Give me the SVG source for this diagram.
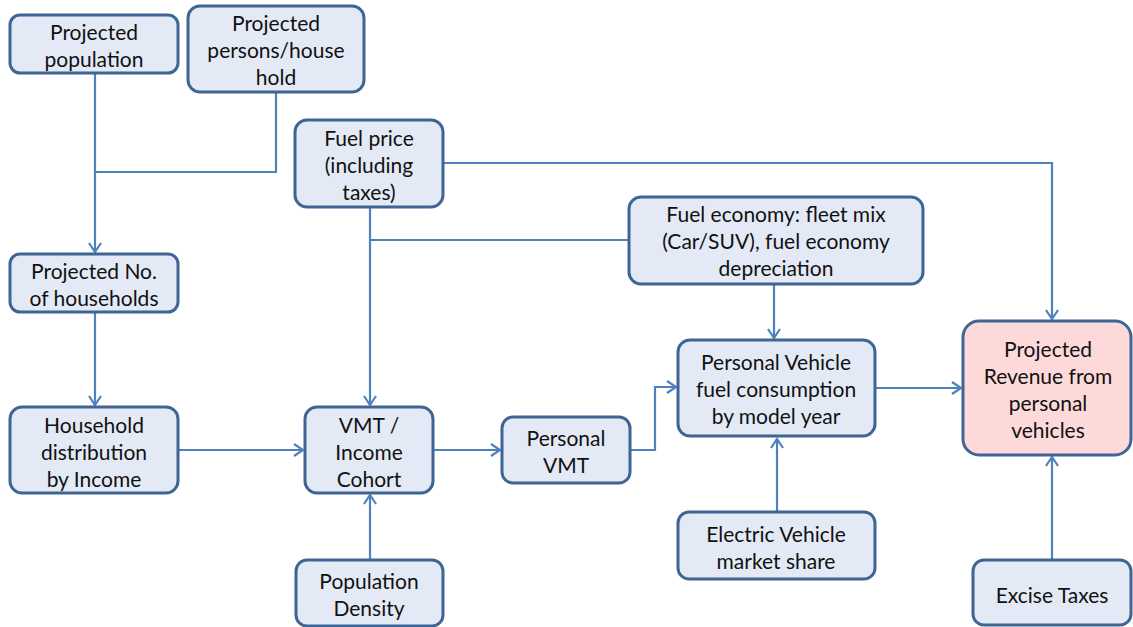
<svg xmlns="http://www.w3.org/2000/svg" width="1133" height="627" viewBox="0 0 1133 627">
<style>
.box{fill:#E3EAF5;stroke:#3F6594;stroke-width:3}
.rev{fill:#FDD9DA;stroke:#3F6594;stroke-width:3}
.t{font-family:Lato,"Open Sans","Liberation Sans",sans-serif;font-size:21px;fill:#111;text-anchor:middle;dominant-baseline:central}
.c{fill:none;stroke:#4F81BD;stroke-width:2.2;marker-end:url(#ah)}
.n{fill:none;stroke:#4F81BD;stroke-width:2.2}
</style>
<defs>
<marker id="ah" markerUnits="userSpaceOnUse" markerWidth="14" markerHeight="16" refX="10" refY="7" orient="auto">
<path d="M1,1 L10,7 L1,13" fill="none" stroke="#4F81BD" stroke-width="2.2"/>
</marker>
</defs>
<rect width="1133" height="627" fill="#fff"/>
<g id="connectors">
<path class="c" d="M95,73 V252"/>
<path class="n" d="M276,92 V172 H95"/>
<path class="c" d="M95,312 V405"/>
<path class="c" d="M178,450 H303"/>
<path class="c" d="M370,207 V405"/>
<path class="n" d="M629,240 H370"/>
<path class="c" d="M443,163 H1052 V319"/>
<path class="c" d="M774,284 V338"/>
<path class="c" d="M433,450 H500"/>
<path class="c" d="M630,450 H655 V387 H676"/>
<path class="c" d="M875,388 H961"/>
<path class="c" d="M370,560 V495"/>
<path class="c" d="M777,512 V439"/>
<path class="c" d="M1052,560 V457"/>
</g>
<g id="projected-population">
<rect class="box" x="10" y="15" width="168" height="58" rx="10"/>
<text class="t" x="94" y="31">Projected</text>
<text class="t" x="94" y="58">population</text>
</g>
<g id="persons-household">
<rect class="box" x="188" y="6" width="176" height="86" rx="12"/>
<text class="t" x="276" y="22">Projected</text>
<text class="t" x="276" y="49">persons/house</text>
<text class="t" x="276" y="76">hold</text>
</g>
<g id="no-households">
<rect class="box" x="10" y="254" width="168" height="58" rx="10"/>
<text class="t" x="94" y="270">Projected No.</text>
<text class="t" x="94" y="297">of households</text>
</g>
<g id="household-distribution">
<rect class="box" x="10" y="407" width="168" height="86" rx="12"/>
<text class="t" x="94" y="424">Household</text>
<text class="t" x="94" y="451">distribution</text>
<text class="t" x="94" y="478">by Income</text>
</g>
<g id="fuel-price">
<rect class="box" x="295" y="120" width="148" height="87" rx="12"/>
<text class="t" x="369" y="137">Fuel price</text>
<text class="t" x="369" y="164">(including</text>
<text class="t" x="369" y="191">taxes)</text>
</g>
<g id="fuel-economy">
<rect class="box" x="629" y="197" width="294" height="87" rx="12"/>
<text class="t" x="776" y="213">Fuel economy: fleet mix</text>
<text class="t" x="776" y="240">(Car/SUV), fuel economy</text>
<text class="t" x="776" y="267">depreciation</text>
</g>
<g id="vmt-income">
<rect class="box" x="305" y="407" width="128" height="86" rx="12"/>
<text class="t" x="369" y="424">VMT /</text>
<text class="t" x="369" y="451">Income</text>
<text class="t" x="369" y="478">Cohort</text>
</g>
<g id="personal-vmt">
<rect class="box" x="502" y="417" width="128" height="66" rx="11"/>
<text class="t" x="566" y="437">Personal</text>
<text class="t" x="566" y="464">VMT</text>
</g>
<g id="pv-fuel-consumption">
<rect class="box" x="678" y="340" width="197" height="96" rx="12"/>
<text class="t" x="776" y="361">Personal Vehicle</text>
<text class="t" x="776" y="388">fuel consumption</text>
<text class="t" x="776" y="415">by model year</text>
</g>
<g id="projected-revenue">
<rect class="rev" x="963" y="321" width="168" height="134" rx="16"/>
<text class="t" x="1048" y="348">Projected</text>
<text class="t" x="1048" y="375">Revenue from</text>
<text class="t" x="1048" y="402">personal</text>
<text class="t" x="1048" y="429">vehicles</text>
</g>
<g id="population-density">
<rect class="box" x="296" y="560" width="147" height="66" rx="11"/>
<text class="t" x="369" y="580">Population</text>
<text class="t" x="369" y="607">Density</text>
</g>
<g id="ev-market-share">
<rect class="box" x="678" y="512" width="197" height="67" rx="11"/>
<text class="t" x="776" y="533">Electric Vehicle</text>
<text class="t" x="776" y="560">market share</text>
</g>
<g id="excise-taxes">
<rect class="box" x="973" y="560" width="158" height="65" rx="11"/>
<text class="t" x="1052" y="594">Excise Taxes</text>
</g>
</svg>
